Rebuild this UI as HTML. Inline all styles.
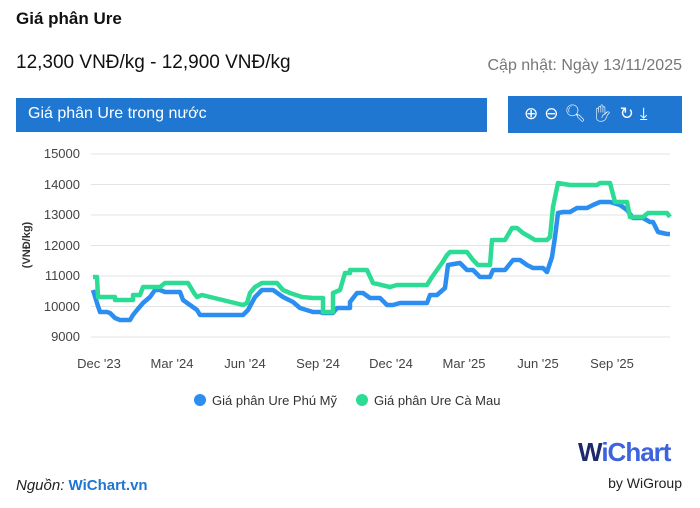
<!DOCTYPE html>
<html><head><meta charset="utf-8"><style>
body{margin:0;width:700px;height:508px;background:#fff;font-family:"Liberation Sans",sans-serif;overflow:hidden;position:relative}
.a{position:absolute;white-space:nowrap}
</style></head><body>
<div class="a" style="left:16px;top:9px;font-size:17px;font-weight:bold;color:#111">Giá phân Ure</div>
<div class="a" style="left:16px;top:52px;font-size:19px;color:#111">12,300 VNĐ/kg - 12,900 VNĐ/kg</div>
<div class="a" style="right:18px;top:57px;font-size:16px;color:#777">Cập nhật: Ngày 13/11/2025</div>
<div class="a" style="left:16px;top:98px;width:471px;height:34px;background:#1f77d2"></div>
<div class="a" style="left:28px;top:105px;font-size:16px;color:#fff">Giá phân Ure trong nước</div>
<div class="a" style="left:508px;top:96px;width:174px;height:37px;background:#1f77d2"></div>
<div class="a" style="left:524px;top:104px;font-size:17px;color:#fff;letter-spacing:6px">⊕⊖🔍︎✋︎↻⤓</div>
<svg class="a" style="left:0;top:0" width="700" height="508">
<g stroke="#e3e3e3" stroke-width="1">
<line x1="91" x2="670" y1="154" y2="154"/><line x1="91" x2="670" y1="184.5" y2="184.5"/><line x1="91" x2="670" y1="215" y2="215"/><line x1="91" x2="670" y1="245.5" y2="245.5"/><line x1="91" x2="670" y1="276" y2="276"/><line x1="91" x2="670" y1="306.5" y2="306.5"/><line x1="91" x2="670" y1="337" y2="337"/></g>
<g font-size="13" fill="#444" text-anchor="end">
<text x="80" y="158">15000</text><text x="80" y="189">14000</text><text x="80" y="219">13000</text><text x="80" y="250">12000</text><text x="80" y="280">11000</text><text x="80" y="311">10000</text><text x="80" y="341">9000</text></g>
<text transform="translate(30,245) rotate(-90)" font-size="11" font-weight="bold" fill="#333" text-anchor="middle">(VNĐ/kg)</text>
<g font-size="13" fill="#444" text-anchor="middle">
<text x="99" y="368">Dec '23</text><text x="172" y="368">Mar '24</text><text x="245" y="368">Jun '24</text><text x="318" y="368">Sep '24</text><text x="391" y="368">Dec '24</text><text x="464" y="368">Mar '25</text><text x="538" y="368">Jun '25</text><text x="612" y="368">Sep '25</text></g>
<polyline fill="none" stroke="#2b8ef0" stroke-width="4.5" stroke-linejoin="round" points="93,290 97,303 100,312 107,312 110,313 115,318 120,320 130,320 133,315 137,310 143,303 150,297 155,290 160,290 165,292 180,292 183,300 190,305 197,310 200,315 243,315 248,310 255,297 262,290 273,290 283,297 293,302 300,308 313,312 320,312 323,313 333,313 337,308 350,308 350,302 357,293 363,293 370,298 380,298 387,305 393,305 400,303 427,303 430,295 437,295 445,288 448,265 460,263 467,270 473,270 480,277 490,277 493,270 505,270 513,260 520,260 527,265 533,268 543,268 547,272 552,257 555,237 558,213 563,212 570,212 577,208 587,208 593,205 600,202 610,202 620,205 627,210 633,218 643,218 650,222 653,222 658,232 667,234 670,234"/>
<polyline fill="none" stroke="#2ddc94" stroke-width="4.5" stroke-linejoin="round" points="93,277 97,277 98,297 115,297 115,300 133,300 133,295 140,295 143,287 160,287 165,283 188,283 194,293 197,297 202,295 243,305 247,303 250,293 255,287 262,283 277,283 283,290 290,293 302,297 313,298 323,298 323,312 333,312 333,293 340,290 345,273 350,273 350,270 367,270 373,283 390,287 397,285 427,285 432,277 442,263 447,255 450,252 467,252 473,260 478,265 490,265 492,240 505,240 512,228 517,228 523,233 530,237 535,240 547,240 550,237 553,207 558,183 570,185 597,185 600,183 610,183 615,202 627,202 630,217 643,217 648,213 667,213 670,217"/>
<circle cx="200" cy="400" r="6" fill="#2b8ef0"/><circle cx="362" cy="400" r="6" fill="#2ddc94"/>
<g font-size="13" fill="#333"><text x="212" y="405">Giá phân Ure Phú Mỹ</text><text x="374" y="405">Giá phân Ure Cà Mau</text></g>
</svg>
<div class="a" style="left:16px;top:477px;font-size:15px;color:#222"><i>Nguồn:</i> <span style="color:#1f77d2;font-weight:bold">WiChart.vn</span></div>
<div class="a" style="left:578px;top:437px;font-size:26px;font-weight:bold;color:#1c2a6b;letter-spacing:-1px">W<span style="color:#3d63dd">iChart</span></div>
<div class="a" style="right:18px;top:475px;font-size:14px;color:#222">by WiGroup</div>
</body></html>
